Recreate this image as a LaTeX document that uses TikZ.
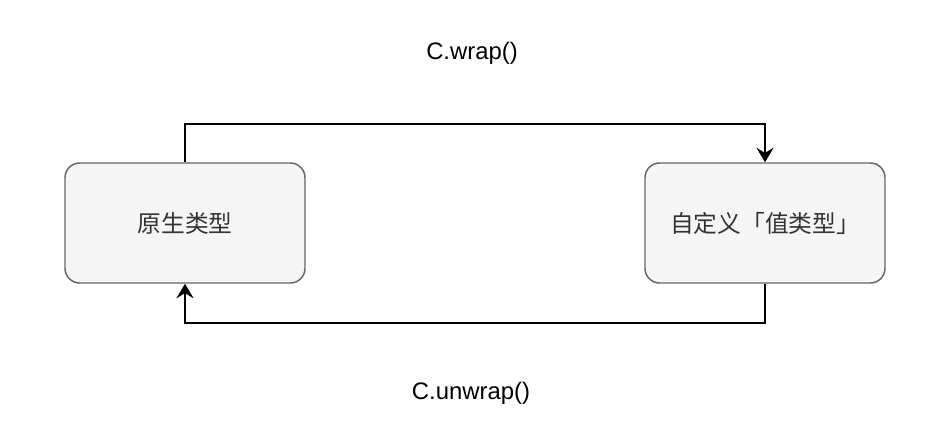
\documentclass[tikz,border=0pt]{standalone}
\usepackage{fontspec}
\setmainfont{Liberation Sans}
\newfontfamily\cjk{Noto Sans CJK SC}
\usetikzlibrary{arrows.meta}
\definecolor{boxfill}{HTML}{F5F5F5}
\definecolor{boxline}{HTML}{666666}
\definecolor{boxtext}{HTML}{333333}
\begin{document}
\begin{tikzpicture}[x=0.75pt,y=-0.75pt,
  typebox/.style={draw=boxline, fill=boxfill, line width=1.1pt, rounded corners=11pt,
    minimum width=180pt, minimum height=90pt, text=boxtext, font=\cjk\fontsize{17.8}{21}\selectfont, inner sep=0pt},
  lbl/.style={font=\fontsize{17.9}{21}\selectfont, text=black},
  conn/.style={draw=black, line width=1.1pt, -{Stealth[length=11pt,width=13pt,inset=4pt]}}]
\useasboundingbox (0,0) rectangle (950,444);
\node[typebox] (a) at (185,223) {原生类型};
\node[typebox] (b) at (765,223) {自定义「值类型」};
\coordinate (top) at (0,124);
\coordinate (bot) at (0,323);
\draw[conn] (a.north) -- (a.north |- top) -| (b.north);
\draw[conn] (b.south) -- (b.south |- bot) -| (a.south);
\node[lbl] (w) at (472,53) {C.wrap()};
\node[lbl] (u) at (471,393) {C.unwrap()};
\end{tikzpicture}
\end{document}
